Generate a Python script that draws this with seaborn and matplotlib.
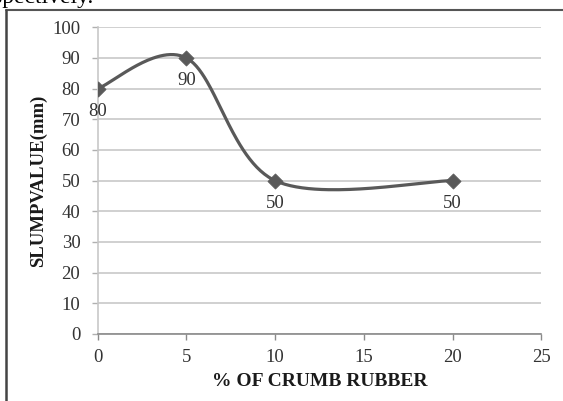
import numpy as np
import pandas as pd
import matplotlib
matplotlib.use("Agg")
import matplotlib.pyplot as plt
from matplotlib.lines import Line2D
import seaborn as sns

# ---- data ----
crumb_pct = [0, 5, 10, 20]
slump_mm = [80, 90, 50, 50]
x_ticks = [0, 5, 10, 15, 20, 25]
y_ticks = [0, 10, 20, 30, 40, 50, 60, 70, 80, 90, 100]
x_label = "% OF CRUMB RUBBER"
y_label = "SLUMPVALUE(mm)"

sns.set_theme(style="white")
plt.rcParams['font.family'] = ['Liberation Serif', 'DejaVu Serif']

LINE_C = "#595959"


def smooth_curve(xs, ys, n=60):
    """Excel-like smoothed line: cubic Bezier with Catmull-Rom control points."""
    P = np.column_stack([xs, ys]).astype(float)
    P_ext = np.vstack([P[0], P, P[-1]])
    out = []
    t = np.linspace(0, 1, n)[:, None]
    for i in range(len(P) - 1):
        p0, p1, p2, p3 = P_ext[i], P_ext[i + 1], P_ext[i + 2], P_ext[i + 3]
        b1 = p1 + (p2 - p0) / 6.0
        b2 = p2 - (p3 - p1) / 6.0
        seg = ((1 - t) ** 3) * p1 + 3 * ((1 - t) ** 2) * t * b1 + 3 * (1 - t) * t ** 2 * b2 + t ** 3 * p2
        out.append(seg if i == 0 else seg[1:])
    c = np.vstack(out)
    return c[:, 0], c[:, 1]


fig = plt.figure(figsize=(5.63, 4.01), dpi=100)
ax = fig.add_axes([0.1735, 0.1671, 0.9615 - 0.1735, 0.9319 - 0.1671])

cx, cy = smooth_curve(crumb_pct, slump_mm)
curve = pd.DataFrame({"x": cx, "y": cy})
sns.lineplot(data=curve, x="x", y="y", sort=False, ax=ax, color=LINE_C,
             linewidth=2.3, estimator=None)
pts = pd.DataFrame({"x": crumb_pct, "y": slump_mm})
sns.scatterplot(data=pts, x="x", y="y", ax=ax, marker="D", s=60,
                color=LINE_C, edgecolor=LINE_C, linewidth=0.5, zorder=5)

for xv, yv in zip(crumb_pct, slump_mm):
    ax.annotate(f"{yv}", (xv, yv), xytext=(0, -16.5), textcoords="offset points",
                ha="center", va="center", fontsize=13.5, color="#333333")

ax.set_xlim(0, 25)
ax.set_ylim(0, 100)
ax.set_xticks(x_ticks)
ax.set_yticks(y_ticks)
ax.set_xticklabels([str(v) for v in x_ticks])
ax.set_yticklabels([str(v) for v in y_ticks])
ax.yaxis.grid(True, color="#d0d0d0", linewidth=1.4)
ax.xaxis.grid(False)
ax.set_axisbelow(True)
for s in ["top", "right"]:
    ax.spines[s].set_visible(False)
ax.spines["left"].set_color("#c8c8c8")
ax.spines["left"].set_linewidth(1.2)
ax.spines["bottom"].set_color("#8a8a8a")
ax.spines["bottom"].set_linewidth(1.2)
ax.tick_params(axis="x", direction="out", length=4.5, width=1.0, color="#8a8a8a",
               labelsize=13.5, labelcolor="#333333", pad=6, bottom=True)
ax.tick_params(axis="y", direction="out", length=4, width=1.0, color="#b0b0b0",
               labelsize=13.5, labelcolor="#333333", pad=8.5, left=True)

ax.set_xlabel(x_label, fontsize=14, fontweight="bold", color="#1a1a1a", labelpad=5)
ax.set_ylabel(y_label, fontsize=13.5, fontweight="bold", color="#1a1a1a", labelpad=4)
ax.patch.set_alpha(0)

# outer chart frame (cropped)
W, H = 563.0, 401.0
fig.add_artist(Line2D([6 / W, 1.0], [1 - 9.7 / H, 1 - 9.7 / H], color="#555555",
                      linewidth=1.5, transform=fig.transFigure))
fig.add_artist(Line2D([6 / W, 6 / W], [0.0, 1 - 9.7 / H], color="#444444",
                      linewidth=1.8, transform=fig.transFigure))

# cropped document text at the very top
fig.text(-0.012, 1 - 2.5 / H, "spectively.", fontsize=17, color="black",
         va="baseline", ha="left")

fig.savefig("out.png", dpi=100)
